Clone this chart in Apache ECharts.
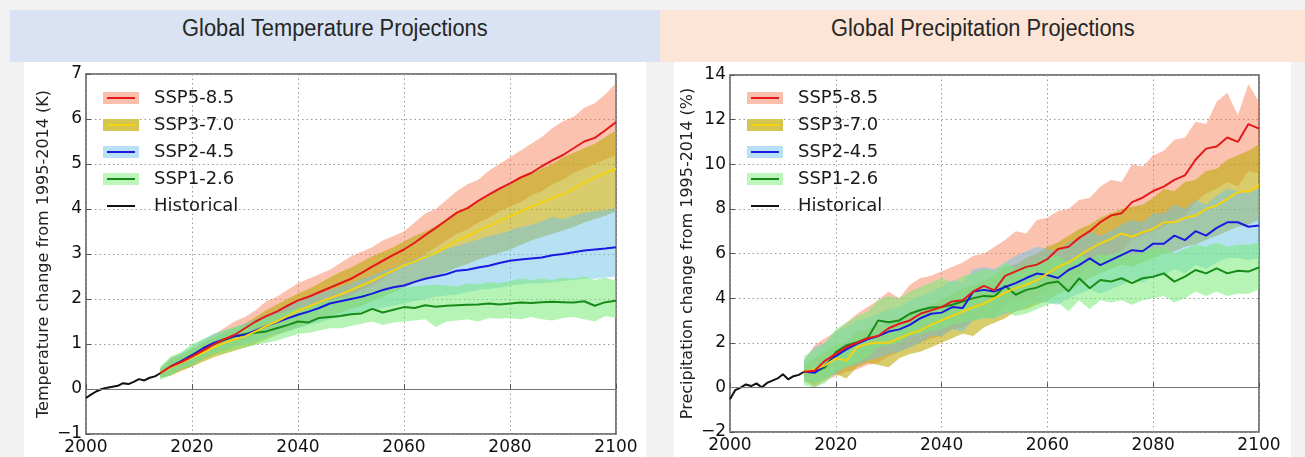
<!DOCTYPE html>
<html>
<head>
<meta charset="utf-8">
<script src="https://cdn.jsdelivr.net/npm/echarts@6/dist/echarts.min.js"></script>
<style>
  body { margin: 0; background: #f2f2f2; width: 1305px; height: 457px; overflow: hidden; position: relative; }
  .bar { position: absolute; top: 10px; height: 52px; line-height: 36px; text-align: center;
         font-family: 'Liberation Sans', Arial, sans-serif; font-size: 23px; color: #262626; }
  .bar span { display: inline-block; transform: scaleX(0.95); }
  .panel { position: absolute; top: 62px; bottom: 0; background: #fff; }
  #chart { position: absolute; left: 0; top: 0; width: 1305px; height: 457px; }
</style>
</head>
<body>
<div class="bar" style="left:10px;width:650px;background:#dae3f3"><span>Global Temperature Projections</span></div>
<div class="bar" style="left:660px;width:645px;background:#fce4d6"><span>Global Precipitation Projections</span></div>
<div class="panel" style="left:24px;width:622px"></div>
<div class="panel" style="left:674px;width:617px"></div>
<div id="chart"></div>
<script>
// scenario labels, in legend order
const scenarios = ['SSP5-8.5', 'SSP3-7.0', 'SSP2-4.5', 'SSP1-2.6'];

const histYears = [2000, 2001, 2002, 2003, 2004, 2005, 2006, 2007, 2008, 2009, 2010, 2011, 2012, 2013, 2014];
const projYears = [2014, 2016, 2018, 2020, 2022, 2024, 2026, 2028, 2030, 2032,
  2034, 2036, 2038, 2040, 2042, 2044, 2046, 2048, 2050, 2052,
  2054, 2056, 2058, 2060, 2062, 2064, 2066, 2068, 2070, 2072,
  2074, 2076, 2078, 2080, 2082, 2084, 2086, 2088, 2090, 2092,
  2094, 2096, 2098, 2100];

// ---- temperature (K) ----
const tempHist = [-0.2, -0.12, -0.05, 0.0, 0.03, 0.05, 0.07, 0.13, 0.11, 0.16, 0.22, 0.19, 0.25, 0.28, 0.35];

const tempSsp585 = [0.35,0.5,0.6,0.72,0.85, 0.98,1.1,1.2,1.35,1.5, 1.62,1.72,1.85,1.97,2.05, 2.15,2.25,2.35,2.45,2.58, 2.72,2.85,2.98,3.1,3.25, 3.42,3.58,3.75,3.92,4.02, 4.18,4.32,4.45,4.57,4.7, 4.8,4.95,5.08,5.2,5.35, 5.5,5.58,5.75,5.93];
const tempSsp585Hi = [0.45,0.7,0.78,0.9,1.05, 1.2,1.35,1.5,1.6,1.75, 1.95,2.05,2.2,2.35,2.45, 2.55,2.65,2.8,2.95,3.05, 3.15,3.3,3.4,3.5,3.7, 3.9,4.0,4.2,4.4,4.55, 4.65,4.85,5.0,5.15,5.3, 5.45,5.6,5.8,5.95,6.05, 6.25,6.35,6.55,6.8];
const tempSsp585Lo = [0.25,0.3,0.42,0.5,0.65, 0.75,0.85,0.95,1.05,1.2, 1.3,1.4,1.5,1.6,1.7, 1.78,1.88,1.98,2.08,2.2, 2.3,2.45,2.6,2.72,2.85, 3.0,3.15,3.3,3.45,3.55, 3.7,3.8,3.95,4.05,4.15, 4.3,4.4,4.55,4.65,4.8, 4.9,5.0,5.1,5.2];

const tempSsp370 = [0.35,0.48,0.58,0.7,0.8, 0.92,1.02,1.1,1.17,1.28, 1.4,1.5,1.62,1.74,1.83, 1.93,2.02,2.1,2.2,2.3, 2.4,2.52,2.63,2.75,2.83, 2.93,3.02,3.15,3.3,3.4, 3.52,3.62,3.73,3.84,3.95, 4.05,4.15,4.25,4.33,4.45, 4.58,4.7,4.8,4.9];
const tempSsp370Hi = [0.45,0.65,0.75,0.88,1.0, 1.12,1.25,1.35,1.45,1.6, 1.75,1.88,2.0,2.12,2.22, 2.35,2.48,2.6,2.7,2.82, 2.95,3.05,3.15,3.28,3.4, 3.5,3.62,3.78,3.95,4.05, 4.15,4.3,4.42,4.55,4.7, 4.8,4.9,5.0,5.15,5.25, 5.35,5.45,5.6,5.75];
const tempSsp370Lo = [0.25,0.3,0.4,0.5,0.6, 0.7,0.78,0.85,0.92,1.0, 1.1,1.2,1.28,1.38,1.45, 1.55,1.62,1.7,1.78,1.85, 1.95,2.05,2.15,2.25,2.35, 2.45,2.52,2.6,2.7,2.78, 2.88,2.95,3.02,3.1,3.2, 3.3,3.38,3.45,3.52,3.6, 3.7,3.78,3.85,3.95];

const tempSsp245 = [0.35,0.5,0.62,0.75,0.9, 1.02,1.1,1.17,1.2,1.3, 1.4,1.48,1.57,1.65,1.72, 1.8,1.9,1.95,2.0,2.05, 2.12,2.2,2.26,2.3,2.38, 2.45,2.5,2.55,2.63,2.65, 2.7,2.74,2.8,2.85,2.88, 2.9,2.92,2.97,3.0,3.04, 3.08,3.1,3.12,3.15];
const tempSsp245Hi = [0.45,0.68,0.8,0.95,1.1, 1.22,1.3,1.38,1.45,1.55, 1.65,1.75,1.85,1.95,2.05, 2.12,2.2,2.28,2.35,2.45, 2.52,2.62,2.7,2.8,2.88, 2.98,3.05,3.12,3.18,3.25, 3.32,3.4,3.45,3.52,3.6, 3.65,3.72,3.82,3.78,3.85, 3.92,3.95,3.98,4.02];
const tempSsp245Lo = [0.25,0.32,0.45,0.55,0.7, 0.8,0.88,0.95,1.0,1.05, 1.15,1.22,1.28,1.35,1.42, 1.48,1.55,1.6,1.65,1.7, 1.75,1.8,1.85,1.9,1.95, 2.0,2.05,2.08,2.1,2.15, 2.2,2.22,2.25,2.3,2.32, 2.35,2.35,2.38,2.4,2.42, 2.45,2.45,2.48,2.5];

const tempSsp126 = [0.35,0.5,0.62,0.75,0.88, 1.0,1.08,1.17,1.22,1.25, 1.28,1.35,1.42,1.5,1.48, 1.58,1.6,1.62,1.66,1.68, 1.78,1.7,1.76,1.82,1.8, 1.86,1.83,1.85,1.86,1.87, 1.88,1.9,1.88,1.9,1.92, 1.91,1.93,1.94,1.93,1.92, 1.95,1.85,1.93,1.96];
const tempSsp126Hi = [0.5,0.72,0.82,1.0,1.1, 1.2,1.3,1.38,1.42,1.5, 1.58,1.65,1.72,1.8,1.85, 1.92,1.98,2.02,2.08,2.12, 2.18,2.2,2.22,2.25,2.28, 2.3,2.32,2.3,2.28,2.35, 2.32,2.38,2.35,2.4,2.45, 2.42,2.45,2.42,2.48,2.45, 2.5,2.42,2.48,2.4];
const tempSsp126Lo = [0.2,0.3,0.45,0.5,0.65, 0.75,0.8,0.88,0.92,0.98, 1.02,1.08,1.15,1.22,1.25, 1.3,1.35,1.35,1.4,1.45, 1.5,1.42,1.48,1.5,1.52, 1.55,1.38,1.5,1.52,1.55, 1.5,1.58,1.56,1.58,1.55, 1.6,1.55,1.52,1.58,1.6, 1.55,1.5,1.62,1.58];

// ---- precipitation (%) ----
const precHist = [-0.53, -0.12, -0.01, 0.13, 0.06, 0.18, 0.0, 0.2, 0.3, 0.4, 0.59, 0.36, 0.5, 0.56, 0.7];

const precSsp585 = [0.7,0.75,1.2,1.5,1.8, 2.0,2.2,2.3,2.65,2.85, 3.0,3.3,3.45,3.6,3.85, 3.9,4.3,4.55,4.35,5.0, 5.2,5.4,5.5,5.75,6.2, 6.3,6.7,7.0,7.4,7.7, 7.8,8.3,8.5,8.8,9.0, 9.3,9.5,10.2,10.7,10.8, 11.2,11.0,11.8,11.6];
const precSsp585Hi = [1.2,1.9,2.2,2.5,2.9, 3.3,3.6,3.9,4.3,4.0, 4.6,4.9,5.0,5.2,5.4, 5.6,5.9,6.0,6.3,6.6, 7.0,6.9,7.5,7.6,7.9, 8.0,8.4,8.5,9.0,9.3, 9.2,10.0,9.9,10.4,10.6, 11.1,11.2,11.9,11.8,12.8, 13.2,12.2,13.6,12.8];
const precSsp585Lo = [0.3,0.0,0.3,0.5,0.7, 0.8,1.0,1.1,1.4,1.6, 1.8,2.0,2.2,2.3,2.6, 2.7,3.0,3.2,3.1,3.7, 3.9,4.0,4.1,4.3,4.7, 4.8,5.1,5.4,5.8,6.0, 6.1,6.6,6.8,7.0,7.2, 7.5,7.7,8.3,8.7,8.9, 9.2,9.0,9.7,9.6];

const precSsp370 = [0.7,0.8,1.0,1.3,1.2, 1.8,1.95,2.0,2.0,2.2, 2.4,2.55,2.8,3.0,3.2, 3.4,3.6,3.75,4.0,4.25, 4.45,4.6,4.8,5.1,5.4, 5.6,5.9,6.2,6.45,6.65, 6.9,6.75,6.95,7.1,7.4, 7.4,7.6,7.7,8.0,8.15, 8.45,8.75,8.8,9.05];
const precSsp370Hi = [1.0,1.3,1.6,1.9,2.0, 2.5,2.6,2.8,2.9,3.1, 3.3,3.5,3.7,3.9,4.2, 4.4,4.6,4.8,5.0,5.4, 5.5,5.8,6.0,6.3,6.5, 6.8,7.1,7.3,7.6,7.8, 8.0,8.1,8.2,8.5,8.9, 8.8,9.2,9.3,9.7,9.8, 10.2,10.4,10.6,10.9];
const precSsp370Lo = [0.3,0.1,0.4,0.6,0.4, 0.9,1.1,1.0,0.9,1.3, 1.5,1.6,1.8,2.0,2.2, 2.4,2.3,2.7,2.9,3.1, 3.4,3.5,3.7,3.9,4.2, 4.4,4.6,4.9,5.1,5.3, 5.5,5.4,5.6,5.8,6.0, 6.1,6.3,6.4,6.6,6.8, 7.0,7.2,7.3,7.5];

const precSsp245 = [0.7,0.65,1.0,1.4,1.7, 1.95,2.15,2.3,2.5,2.6, 2.8,3.1,3.3,3.35,3.6, 3.56,4.3,4.37,4.3,4.5, 4.67,4.9,5.1,5.04,4.9, 5.26,5.48,5.78,5.48,5.7, 5.93,6.15,6.1,6.44,6.44, 6.8,6.6,7.0,6.8,7.15, 7.4,7.4,7.2,7.26];
const precSsp245Hi = [1.2,1.8,2.0,2.5,2.7, 3.0,3.1,3.3,3.5,3.6, 3.9,4.1,4.3,4.5,4.8, 4.7,5.3,5.4,5.3,5.6, 5.9,6.1,6.3,6.2,6.1, 6.5,6.7,7.0,6.8,7.0, 7.3,7.5,7.4,7.8,7.8, 8.2,8.0,8.4,8.2,8.6, 8.9,8.8,8.7,8.9];
const precSsp245Lo = [0.3,0.2,0.4,0.6,0.9, 1.0,1.2,1.3,1.5,1.6, 1.8,2.0,2.3,2.3,2.6, 2.5,3.0,3.1,3.1,3.3, 3.4,3.6,3.8,3.8,3.7, 4.0,4.2,4.4,4.2,4.4, 4.6,4.8,4.7,5.0,5.0, 5.3,5.1,5.5,5.3,5.6, 5.8,5.8,5.7,5.8];

const precSsp126 = [0.7,0.7,0.9,1.58,1.88, 2.03,2.2,3.0,2.92,3.0, 3.3,3.47,3.58,3.6,3.7, 3.85,4.0,4.1,4.07,4.55, 4.15,4.37,4.47,4.67,4.74, 4.3,4.89,4.44,4.81,4.74, 4.89,4.67,4.89,4.96,5.11, 4.74,4.96,5.26,5.11,5.33, 5.11,5.23,5.19,5.38];
const precSsp126Hi = [1.4,1.7,2.0,2.6,2.9, 3.2,3.4,3.9,4.1,4.0, 4.3,4.5,4.7,4.9,4.7, 5.0,5.1,5.3,5.2,5.6, 5.3,5.5,5.6,5.8,5.9, 5.6,6.0,5.7,6.0,5.9, 6.1,5.9,6.1,6.2,6.3, 6.0,6.2,6.4,6.3,6.5, 6.3,6.4,6.4,6.5];
const precSsp126Lo = [0.1,0.0,0.2,0.7,0.9, 1.1,1.3,1.8,1.9,2.0, 2.3,2.4,2.5,2.6,2.8, 2.9,3.0,3.1,3.1,3.4, 3.2,3.3,3.5,3.7,3.8, 3.4,3.9,3.5,3.9,3.8, 3.9,3.7,3.9,4.0,4.1, 3.8,4.0,4.3,4.1,4.3, 4.1,4.2,4.2,4.4];

const lineColors = ['#e4191c', '#f5d20f', '#1a1ae0', '#188a18'];
const bandColors = ['rgba(248,120,80,0.45)', 'rgba(190,170,10,0.6)', 'rgba(110,195,230,0.5)', 'rgba(120,235,120,0.55)'];
const patchColors = ['#fbbfae', '#d4c650', '#b8e0f4', '#bdf5bd'];

const chart = echarts.init(document.getElementById('chart'));

// one filled polygon per band, corners converted through the axes
function bandSeries(gi, lo, hi, color) {
  return {
    type: 'custom', xAxisIndex: gi, yAxisIndex: gi, silent: true, z: 2, clip: true,
    data: projYears.map((y, i) => [y, lo[i], hi[i]]),
    encode: { x: 0, y: [1, 2] },
    renderItem: function (params, api) {
      if (params.dataIndex !== 0) return null;
      const top = projYears.map((y, i) => api.coord([y, hi[i]]));
      const bottom = projYears.map((y, i) => api.coord([y, lo[i]])).reverse();
      return { type: 'polygon', shape: { points: top.concat(bottom) }, style: { fill: color } };
    }
  };
}

function panelSeries(gi, means, los, his, hist) {
  const out = [];
  for (let k = 0; k < 4; k++) out.push(bandSeries(gi, los[k], his[k], bandColors[k]));
  // mean lines, green first so red sits on top
  for (let k = 3; k >= 0; k--) {
    out.push({
      type: 'line', name: scenarios[k], xAxisIndex: gi, yAxisIndex: gi, z: 4,
      symbol: 'none', lineStyle: { color: lineColors[k], width: 2 },
      data: projYears.map((y, i) => [y, means[k][i]])
    });
  }
  out.push({
    type: 'line', name: 'Historical', xAxisIndex: gi, yAxisIndex: gi, z: 4,
    symbol: 'none', lineStyle: { color: '#111', width: 2 },
    data: histYears.map((y, i) => [y, hist[i]]),
    markLine: {
      silent: true, symbol: 'none', label: { show: false },
      lineStyle: { color: '#777', width: 1.2, type: 'solid' },
      data: [{ yAxis: 0 }]
    }
  });
  return out;
}

function legendItems(x0) {
  const els = [];
  const rows = [98, 125, 152, 179, 206];
  scenarios.concat(['Historical']).forEach((name, k) => {
    const y = rows[k];
    if (k < 4) {
      els.push({ type: 'rect', z: 20, shape: { x: x0, y: y - 6, width: 36, height: 12 }, style: { fill: patchColors[k] } });
    }
    els.push({ type: 'line', z: 21, shape: { x1: x0 + 4, y1: y, x2: x0 + 32, y2: y },
      style: { stroke: k < 4 ? lineColors[k] : '#111', lineWidth: 2 } });
    els.push({ type: 'text', z: 21, x: x0 + 51, y: y,
      style: { text: name, font: '18px "DejaVu Sans"', fill: '#1a1a1a', verticalAlign: 'middle' } });
  });
  return els;
}

// plain numbers, with a true minus sign like the original
const tickFont = { fontSize: 17, color: '#111', fontFamily: 'DejaVu Sans',
  formatter: v => String(v).replace('-', '\u2212') };
const dotted = { show: true, lineStyle: { type: [1.5, 3], color: '#9a9a9a', width: 1 } };

function xAx(gi) {
  return {
    type: 'value', gridIndex: gi, min: 2000, max: 2100, interval: 20,
    axisLine: { show: false },
    axisTick: { show: true, inside: true, length: 5, lineStyle: { color: '#555' } },
    axisLabel: Object.assign({ margin: 5 }, tickFont),
    splitLine: dotted
  };
}

function yAx(gi, min, max, step, name) {
  return {
    type: 'value', gridIndex: gi, min: min, max: max, interval: step,
    name: name, nameLocation: 'middle', nameGap: 34,
    nameTextStyle: { fontSize: 16, color: '#222', fontFamily: 'DejaVu Sans' },
    axisLine: { show: false },
    axisTick: { show: true, inside: true, length: 5, lineStyle: { color: '#555' } },
    axisLabel: Object.assign({ margin: 4 }, tickFont),
    splitLine: dotted
  };
}

const option = {
  animation: false,
  backgroundColor: 'transparent',
  grid: [
    { left: 86, top: 74, width: 530, height: 360, show: true, borderColor: '#555', borderWidth: 1.5, backgroundColor: 'transparent' },
    { left: 730, top: 75, width: 529, height: 357, show: true, borderColor: '#555', borderWidth: 1.5, backgroundColor: 'transparent' }
  ],
  xAxis: [xAx(0), xAx(1)],
  yAxis: [
    yAx(0, -1, 7, 1, 'Temperature change from 1995-2014 (K)'),
    yAx(1, -2, 14, 2, 'Precipitation change from 1995-2014 (%)')
  ],
  graphic: legendItems(103).concat(legendItems(747)),
  series: panelSeries(0,
      [tempSsp585, tempSsp370, tempSsp245, tempSsp126],
      [tempSsp585Lo, tempSsp370Lo, tempSsp245Lo, tempSsp126Lo],
      [tempSsp585Hi, tempSsp370Hi, tempSsp245Hi, tempSsp126Hi],
      tempHist)
    .concat(panelSeries(1,
      [precSsp585, precSsp370, precSsp245, precSsp126],
      [precSsp585Lo, precSsp370Lo, precSsp245Lo, precSsp126Lo],
      [precSsp585Hi, precSsp370Hi, precSsp245Hi, precSsp126Hi],
      precHist))
};

chart.setOption(option);
</script>
</body>
</html>
